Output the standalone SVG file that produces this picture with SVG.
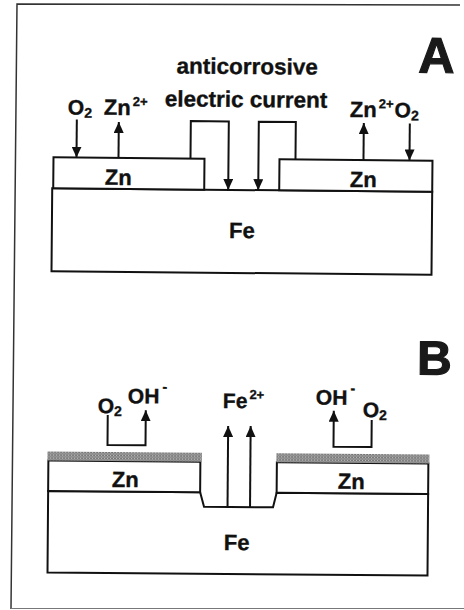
<svg xmlns="http://www.w3.org/2000/svg" width="464" height="610" viewBox="0 0 464 610">
<defs>
<style>
.ln{fill:none;stroke:#111;stroke-width:2}
.bx{fill:#fff;stroke:#111;stroke-width:2}
.ar{fill:none;stroke:#111;stroke-width:2;marker-end:url(#ah)}
.t{font-family:"Liberation Sans",Arial,sans-serif;font-weight:bold;fill:#111;stroke:#111;stroke-width:0.35}
.big{font-family:"Liberation Sans",Arial,sans-serif;font-weight:bold;fill:#1a1a1a;stroke:#1a1a1a;stroke-width:1.2}
</style>
<marker id="ah" markerUnits="userSpaceOnUse" markerWidth="12" markerHeight="10" refX="11" refY="5" orient="auto">
<path d="M0,0 L11,5 L0,10 z" fill="#111"/>
</marker>
<pattern id="dots" width="3" height="3" patternUnits="userSpaceOnUse">
<rect width="3" height="3" fill="#9c9c9c"/>
<rect x="0" y="0" width="1" height="1" fill="#3c3c3c"/>
<rect x="1.5" y="1.5" width="1" height="1" fill="#5a5a5a"/>
<rect x="2" y="0" width="1" height="1" fill="#d0d0d0"/>
</pattern>
</defs>
<rect width="464" height="610" fill="#fff"/>
<g id="frame">
<polyline points="460,5 17,4 11,609" fill="none" stroke="#333" stroke-width="1.5"/>
<line x1="11" y1="608.5" x2="464" y2="608.5" stroke="#777" stroke-width="1.2"/>
</g>

<g id="panelA" transform="rotate(0.5 241 215)">
<g id="A-Fe">
<rect class="bx" x="52" y="190" width="380" height="83"/>
<text class="t" x="242" y="238" font-size="22" text-anchor="middle">Fe</text>
</g>
<g id="A-Zn-left">
<rect class="bx" x="53" y="159" width="151" height="31"/>
<text class="t" x="118" y="186" font-size="22" text-anchor="middle">Zn</text>
</g>
<g id="A-Zn-right">
<rect class="bx" x="279" y="159" width="153" height="31"/>
<text class="t" x="363" y="186" font-size="22" text-anchor="middle">Zn</text>
</g>
<g id="A-labels">
<text class="t" x="246" y="74" font-size="22.5" text-anchor="middle">anticorrosive</text>
<text class="t" x="245" y="107" font-size="22.5" text-anchor="middle">electric current</text>
<text class="t" x="67" y="116" font-size="21">O<tspan font-size="14" dy="3">2</tspan></text>
<text class="t" x="103" y="116" font-size="22">Zn<tspan font-size="13" dy="-9" dx="2">2+</tspan></text>
<text class="t" x="349" y="116" font-size="22">Zn<tspan font-size="13" dy="-9" dx="2">2+</tspan><tspan font-size="21" dy="9" dx="1">O</tspan><tspan font-size="14" dy="3">2</tspan></text>
<text class="big" x="417" y="71" font-size="50">A</text>
</g>
<g id="A-connectors">
<line class="ar" x1="76" y1="121" x2="76" y2="159"/>
<line class="ar" x1="118" y1="159" x2="118" y2="123"/>
<line class="ar" x1="363" y1="159" x2="363" y2="122"/>
<line class="ar" x1="409" y1="122" x2="409" y2="159"/>
<polyline class="ar" points="190,159 190,121.5 228,121.5 228,190"/>
<polyline class="ar" points="295,159 295,121.5 258,121.5 258,190"/>
</g>
</g>

<g id="panelB" transform="rotate(0.45 238 510)">
<g id="B-Fe">
<path class="bx" d="M48,492.5 L200,492.5 L204,507 L273,507 L276.5,492.5 L428,492.5 L428,574 L48,574 Z"/>
<text class="t" x="237" y="550" font-size="22" text-anchor="middle">Fe</text>
</g>
<g id="B-Zn-left">
<rect class="bx" x="48" y="462" width="152" height="30.5"/>
<rect x="47" y="453" width="154.5" height="9" fill="url(#dots)"/>
<text class="t" x="125" y="488" font-size="22" text-anchor="middle">Zn</text>
</g>
<g id="B-Zn-right">
<rect class="bx" x="276.5" y="462" width="151.5" height="30.5"/>
<rect x="276" y="453" width="153" height="9" fill="url(#dots)"/>
<text class="t" x="351" y="488" font-size="22" text-anchor="middle">Zn</text>
</g>
<g id="B-labels">
<text class="t" x="222" y="408" font-size="21">Fe<tspan font-size="13" dy="-9" dx="2">2+</tspan></text>
<text class="t" x="97" y="414" font-size="21">O<tspan font-size="14" dy="3">2</tspan></text>
<text class="t" x="127" y="404" font-size="21">OH<tspan font-size="14" dy="-12" dx="3">-</tspan></text>
<text class="t" x="315" y="404" font-size="21">OH<tspan font-size="14" dy="-12" dx="3">-</tspan></text>
<text class="t" x="362" y="416" font-size="21">O<tspan font-size="14" dy="3">2</tspan></text>
<text class="big" x="416" y="373" font-size="48">B</text>
</g>
<g id="B-connectors">
<line class="ar" x1="227.5" y1="507" x2="227.5" y2="426"/>
<line class="ar" x1="250" y1="507" x2="250" y2="426"/>
<polyline class="ar" points="107,416 107,446 145,446 145,411"/>
<polyline class="ar" points="371,419 371,446 333,446 333,410"/>
</g>
</g>
</svg>
